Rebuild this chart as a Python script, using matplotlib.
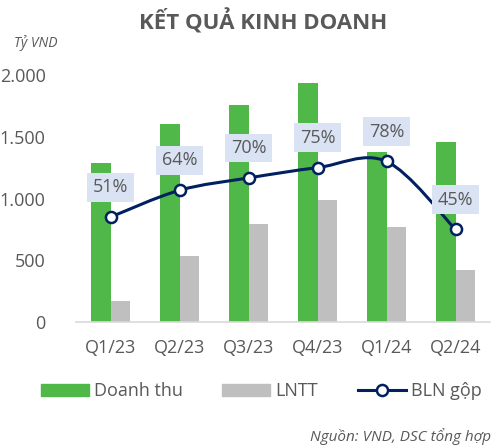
import matplotlib
matplotlib.use("Agg")
import matplotlib.pyplot as plt
import numpy as np
from matplotlib.path import Path
from matplotlib.patches import PathPatch, Patch
from matplotlib.lines import Line2D

plt.rcParams['font.family'] = ['Open Sans', 'DejaVu Sans']

quarters = ["Q1/23", "Q2/23", "Q3/23", "Q4/23", "Q1/24", "Q2/24"]
doanh_thu = [1290, 1603, 1760, 1935, 1380, 1457]
lntt = [167, 534, 791, 988, 767, 421]
bln_gop = [51, 64, 70, 75, 78, 45]

GREEN = "#50B848"
GREY = "#BFBFBF"
NAVY = "#002060"
TXT = "#595959"

fig = plt.figure(figsize=(4.91, 4.45), dpi=100)
ax = fig.add_axes([0.155, 0.2764, 0.843, 0.555])
ax2 = ax.twinx()
ax2.set_position(ax.get_position())

x = np.arange(len(quarters))
w = 0.28
ax.bar(x - w / 2, doanh_thu, w, color=GREEN, zorder=2)
ax.bar(x + w / 2, lntt, w, color=GREY, zorder=2)
ax.set_xlim(-0.5, len(quarters) - 0.5)
ax.set_ylim(0, 2000)
ax.set_yticks([0, 500, 1000, 1500, 2000])
ax.set_yticklabels(["0", "500", "1.000", "1.500", "2.000"])
ax.set_xticks(x)
ax.set_xticklabels(quarters)
ax.tick_params(axis='y', length=0, pad=22, labelsize=13, labelcolor=TXT)
ax.tick_params(axis='x', length=0, pad=12, labelsize=13, labelcolor=TXT)
for s in ["top", "right", "left"]:
    ax.spines[s].set_visible(False)
ax.spines["bottom"].set_color("#D9D9D9")
ax.spines["bottom"].set_linewidth(1.2)

# smoothed line (Excel-like bezier)
ax2.set_ylim(0, 120)
ax2.axis("off")
pts = np.column_stack([x, bln_gop]).astype(float)
verts = [pts[0]]
codes = [Path.MOVETO]
n = len(pts)
for i in range(n - 1):
    p0 = pts[i - 1] if i > 0 else pts[i]
    p1 = pts[i]
    p2 = pts[i + 1]
    p3 = pts[i + 2] if i + 2 < n else pts[i + 1]
    c1 = p1 + (p2 - p0) / 6
    c2 = p2 - (p3 - p1) / 6
    verts += [c1, c2, p2]
    codes += [Path.CURVE4] * 3
ax2.add_patch(PathPatch(Path(verts, codes), fill=False, edgecolor=NAVY, lw=2.2, zorder=3))
ax2.plot(x, bln_gop, ls="none", marker="o", ms=8, mfc="white", mec=NAVY, mew=1.8, zorder=4)
for xi, v in zip(x, bln_gop):
    ax2.annotate(f"{v}%", (xi, v), xytext=(0, 21.5), textcoords="offset points",
                 ha="center", va="center", fontsize=13, color=TXT, zorder=5,
                 bbox=dict(boxstyle="square,pad=0.3", fc="#DAE3F3", ec="none"))

fig.text(0.535, 0.951, "KẾT QUẢ KINH DOANH", ha="center", va="center",
         fontsize=16, fontweight="bold", color=TXT)
fig.text(0.028, 0.903, "Tỷ VND", ha="left", va="center", fontsize=10,
         style="italic", color=TXT)
fig.text(1.0, 0.02, "Nguồn: VND, DSC tổng hợp", ha="right", va="center",
         fontsize=11, style="italic", color=TXT)

handles = [Patch(color=GREEN), Patch(color=GREY),
           Line2D([], [], color=NAVY, lw=2.2, marker="o", ms=8, mfc="white", mec=NAVY, mew=1.8)]
fig.legend(handles, ["Doanh thu", "LNTT", "BLN gộp"], loc="center",
           bbox_to_anchor=(0.532, 0.121), ncol=3, frameon=False, fontsize=13,
           labelcolor=TXT, handlelength=2.66, handleheight=0.65, handletextpad=0.28,
           columnspacing=2.2, borderpad=0)

fig.savefig("out.png", dpi=100)
